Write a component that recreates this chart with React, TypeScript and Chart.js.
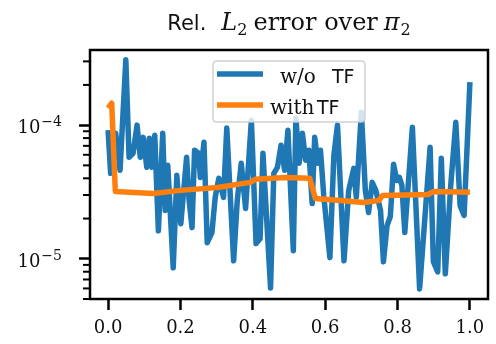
import React, { useEffect, useRef } from 'react';
import { Chart, registerables } from 'chart.js';

Chart.register(...registerables);

// ---- data ----
const xTicks = [0, 0.2, 0.4, 0.6, 0.8, 1.0];
const xTickLabels = ['0.0', '0.2', '0.4', '0.6', '0.8', '1.0'];
const yMajorTicks = [1e-5, 1e-4];
const yMinorTicks = [5e-6, 6e-6, 7e-6, 8e-6, 9e-6, 2e-5, 3e-5, 4e-5, 5e-5, 6e-5, 7e-5, 8e-5, 9e-5, 2e-4, 3e-4];
const xMin = -0.05;
const xMax = 1.05;
const yMin = 5e-6;
const yMax = 3.65e-4;

const titleParts = ['Rel.', 'L', '2', 'error over', 'π', '2'];
const seriesLabels = ['w/o TF', 'with TF'];

const blueX = [0, 0.007, 0.021, 0.033, 0.049, 0.058, 0.069, 0.080, 0.089, 0.097, 0.107, 0.114, 0.121, 0.129, 0.139, 0.151, 0.158, 0.165, 0.180, 0.190, 0.195, 0.201, 0.217, 0.224, 0.232, 0.239, 0.250, 0.255, 0.265, 0.274, 0.287, 0.296, 0.306, 0.319, 0.328, 0.347, 0.357, 0.368, 0.380, 0.396, 0.409, 0.420, 0.428, 0.449, 0.458, 0.468, 0.478, 0.488, 0.497, 0.512, 0.519, 0.528, 0.537, 0.546, 0.555, 0.564, 0.571, 0.580, 0.587, 0.596, 0.613, 0.624, 0.634, 0.652, 0.665, 0.679, 0.686, 0.700, 0.711, 0.720, 0.730, 0.740, 0.753, 0.761, 0.771, 0.780, 0.789, 0.798, 0.805, 0.812, 0.820, 0.841, 0.861, 0.875, 0.890, 0.899, 0.911, 0.921, 0.932, 0.947, 0.961, 0.973, 0.984, 1.0];
const blueY = [9.17e-5, 4.36e-5, 8.7e-5, 4.59e-5, 3.08e-4, 5.75e-5, 6.16e-5, 1.0e-4, 5.75e-5, 8.1e-5, 4.83e-5, 7.98e-5, 4.83e-5, 8.4e-5, 1.62e-5, 8.7e-5, 2.3e-5, 5.0e-5, 8.55e-6, 4.21e-5, 2.73e-5, 1.83e-5, 5.75e-5, 2.73e-5, 1.71e-5, 6.49e-5, 6.16e-5, 4.06e-5, 7.45e-5, 1.32e-5, 1.57e-5, 2.88e-5, 4.0e-5, 2.88e-5, 9.5e-5, 9.66e-6, 2.73e-5, 5.18e-5, 2.38e-5, 1.09e-4, 1.3e-5, 1.41e-5, 6.16e-5, 6.05e-6, 4.36e-5, 4.83e-5, 7.08e-5, 4.59e-5, 9.17e-5, 1.15e-5, 1.13e-4, 5.18e-5, 8.7e-5, 5.46e-5, 6.49e-5, 2.59e-5, 8.1e-5, 5.18e-5, 6.49e-5, 2.98e-5, 1.02e-5, 5.95e-5, 1.0e-4, 9.66e-6, 3.25e-5, 4.75e-5, 2.88e-5, 1.25e-4, 3.25e-5, 2.22e-5, 3.73e-5, 3.25e-5, 2.3e-5, 9.5e-6, 1.77e-5, 2.07e-5, 5.09e-5, 3.86e-5, 4.06e-5, 3.54e-5, 1.57e-5, 9.66e-5, 5.95e-6, 1.93e-5, 6.84e-5, 9.5e-6, 7.98e-6, 5.65e-5, 7.71e-6, 3.54e-5, 1.05e-4, 2.5e-5, 2.11e-5, 2.1e-4];

const orangeX = [0, 0.01, 0.02, 0.125, 0.2, 0.302, 0.393, 0.407, 0.49, 0.557, 0.573, 0.643, 0.706, 0.748, 0.759, 0.884, 0.9, 1.0];
const orangeY = [1.34e-4, 1.46e-4, 3.19e-5, 3.08e-5, 3.25e-5, 3.42e-5, 3.73e-5, 3.93e-5, 4.06e-5, 4.0e-5, 2.83e-5, 2.73e-5, 2.64e-5, 2.73e-5, 2.98e-5, 3.03e-5, 3.19e-5, 3.14e-5];

const BLUE = '#1f77b4';
const ORANGE = '#ff7f0e';
const SERIF = '"DejaVu Serif", serif';
const SANS = '"DejaVu Sans", sans-serif';
const TEXT = '#111';

const toPoints = (xs: number[], ys: number[]) => xs.map((x, i) => ({ x, y: ys[i] }));

const decorPlugin = {
  id: 'decor',
  afterDatasetsDraw(chart: any) {
    const ctx = chart.ctx;
    const ca = chart.chartArea;
    // legend box
    const bx = ca.left + 123;
    const by = ca.top + 11;
    const bw = 152;
    const bh = 61;
    ctx.save();
    ctx.beginPath();
    const r = 4;
    ctx.moveTo(bx + r, by);
    ctx.lineTo(bx + bw - r, by);
    ctx.quadraticCurveTo(bx + bw, by, bx + bw, by + r);
    ctx.lineTo(bx + bw, by + bh - r);
    ctx.quadraticCurveTo(bx + bw, by + bh, bx + bw - r, by + bh);
    ctx.lineTo(bx + r, by + bh);
    ctx.quadraticCurveTo(bx, by + bh, bx, by + bh - r);
    ctx.lineTo(bx, by + r);
    ctx.quadraticCurveTo(bx, by, bx + r, by);
    ctx.closePath();
    ctx.fillStyle = 'rgba(255,255,255,0.8)';
    ctx.fill();
    ctx.strokeStyle = 'rgba(204,204,204,0.9)';
    ctx.lineWidth = 1.5;
    ctx.stroke();

    const rows = [
      { y: by + 13, wordX: bx + 67, tfX: bx + 119 },
      { y: by + 44, wordX: bx + 57, tfX: bx + 104 },
    ];
    chart.data.datasets.forEach((ds: any, i: number) => {
      const row = rows[i];
      ctx.beginPath();
      ctx.moveTo(bx + 4, row.y);
      ctx.lineTo(bx + 50, row.y);
      ctx.strokeStyle = ds.borderColor;
      ctx.lineWidth = 5.5;
      ctx.lineCap = 'butt';
      ctx.stroke();
      const [word, tf] = String(ds.label).split(' ');
      ctx.fillStyle = TEXT;
      ctx.textBaseline = 'alphabetic';
      ctx.textAlign = 'left';
      ctx.font = `20px ${SERIF}`;
      ctx.fillText(word, row.wordX, row.y + 9);
      ctx.font = `19px ${SANS}`;
      ctx.fillText(tf, row.tfX, row.y + 9);
    });
    ctx.restore();
  },
  afterDraw(chart: any) {
    const ctx = chart.ctx;
    const ca = chart.chartArea;
    const ys = chart.scales.y;
    ctx.save();
    // frame
    ctx.strokeStyle = '#000';
    ctx.lineWidth = 2.5;
    ctx.strokeRect(ca.left, ca.top, ca.right - ca.left, ca.bottom - ca.top);
    // minor y ticks
    ctx.lineWidth = 2;
    yMinorTicks.forEach((v) => {
      const y = ys.getPixelForValue(v);
      ctx.beginPath();
      ctx.moveTo(ca.left - 7, y);
      ctx.lineTo(ca.left, y);
      ctx.stroke();
    });
    // y tick labels 10^n
    ctx.fillStyle = TEXT;
    ctx.textBaseline = 'alphabetic';
    ctx.textAlign = 'left';
    yMajorTicks.forEach((v) => {
      const y = ys.getPixelForValue(v);
      const exp = Math.round(Math.log10(v));
      const sup = (exp < 0 ? '\u2212' : '') + Math.abs(exp);
      ctx.font = `14px ${SERIF}`;
      const supW = ctx.measureText(sup).width;
      ctx.font = `18px ${SERIF}`;
      const baseW = ctx.measureText('10').width;
      const right = ca.left - 28;
      const x0 = right - supW - baseW - 1;
      ctx.fillText('10', x0, y + 8);
      ctx.font = `14px ${SERIF}`;
      ctx.fillText(sup, x0 + baseW + 1, y + 1);
    });
    // title
    const fonts = [`21px ${SANS}`, `italic 24px ${SERIF}`, `16px ${SERIF}`, `24px ${SERIF}`, `italic 24px ${SERIF}`, `16px ${SERIF}`];
    const dys = [0, 0, 5, 0, 0, 5];
    const gaps = [15, 0, 6, 6, 1, 0];
    let total = 0;
    const widths = titleParts.map((t, i) => {
      ctx.font = fonts[i];
      const w = ctx.measureText(t).width;
      total += w + gaps[i];
      return w;
    });
    let x = (ca.left + ca.right) / 2 - total / 2;
    const base = ca.top - 20;
    titleParts.forEach((t, i) => {
      ctx.font = fonts[i];
      ctx.fillText(t, x, base + dys[i]);
      x += widths[i] + gaps[i];
    });
    ctx.restore();
  },
};

export default function App() {
  const ref = useRef<HTMLCanvasElement | null>(null);
  useEffect(() => {
    if (!ref.current) return;
    const chart = new Chart(ref.current, {
      type: 'line',
      data: {
        datasets: [
          {
            label: seriesLabels[0],
            data: toPoints(blueX, blueY),
            borderColor: BLUE,
            borderWidth: 5.5,
            pointRadius: 0,
            tension: 0,
            borderJoinStyle: 'round',
            order: 1,
            clip: 0,
          },
          {
            label: seriesLabels[1],
            data: toPoints(orangeX, orangeY),
            borderColor: ORANGE,
            borderWidth: 5.5,
            pointRadius: 0,
            tension: 0,
            borderJoinStyle: 'round',
            order: 0,
            clip: 0,
          },
        ],
      } as any,
      options: {
        animation: false,
        responsive: false,
        devicePixelRatio: 1,
        layout: { padding: { left: 0, top: 50, right: 8, bottom: 0 } },
        plugins: {
          legend: { display: false },
          title: { display: false },
          tooltip: { enabled: false },
        },
        scales: {
          x: {
            type: 'linear',
            min: xMin,
            max: xMax,
            afterBuildTicks: (s: any) => {
              s.ticks = xTicks.map((v) => ({ value: v }));
            },
            afterFit: (s: any) => {
              s.height = 45;
            },
            border: { display: false },
            grid: {
              display: true,
              drawOnChartArea: false,
              drawTicks: true,
              tickLength: 11,
              tickWidth: 2.5,
              tickColor: '#000',
            },
            ticks: {
              autoSkip: false,
              maxRotation: 0,
              padding: 8,
              color: TEXT,
              font: { family: '"DejaVu Serif", serif', size: 18 },
              callback: (v: any) => {
                const i = xTicks.findIndex((t) => Math.abs(t - Number(v)) < 1e-9);
                return i >= 0 ? xTickLabels[i] : '';
              },
            },
          },
          y: {
            type: 'logarithmic',
            min: yMin,
            max: yMax,
            afterBuildTicks: (s: any) => {
              s.ticks = yMajorTicks.map((v) => ({ value: v, major: true }));
            },
            afterFit: (s: any) => {
              s.width = 90;
            },
            border: { display: false },
            grid: {
              display: true,
              drawOnChartArea: false,
              drawTicks: true,
              tickLength: 11,
              tickWidth: 2.5,
              tickColor: '#000',
            },
            ticks: { display: false },
          },
        },
      } as any,
      plugins: [decorPlugin],
    });
    return () => chart.destroy();
  }, []);
  return (
    <div style={{ position: 'absolute', left: 0, top: 0, width: 496, height: 344, background: '#fff' }}>
      <canvas ref={ref} width={496} height={344} style={{ display: 'block' }} />
    </div>
  );
}
